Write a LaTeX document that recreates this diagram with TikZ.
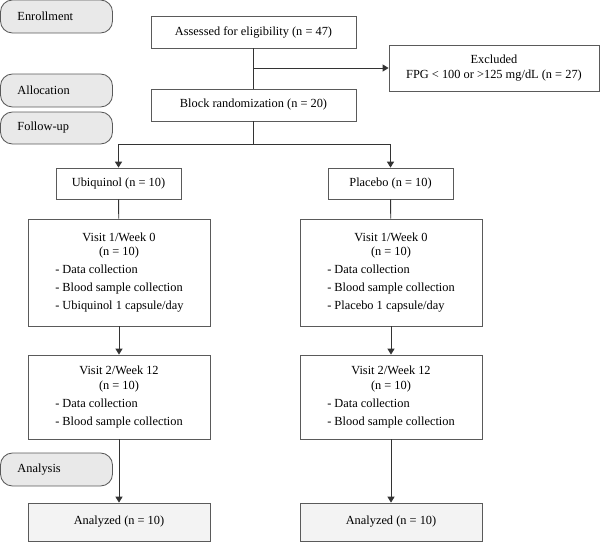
\documentclass[tikz,border=0pt]{standalone}
\usepackage{fontspec}
\setmainfont{Liberation Serif}
\usetikzlibrary{arrows.meta,positioning,calc}
\definecolor{edgegray}{HTML}{5A5A5A}
\definecolor{phasefill}{HTML}{E9E9E9}
\definecolor{resfill}{HTML}{F3F3F3}
\newcommand{\fs}{\fontsize{8.8}{10.6}\selectfont}
\newlength{\blw}
\newcommand{\bl}[1]{\makebox[\blw][l]{- #1}}
\tikzset{
  stage/.style={rectangle, draw=edgegray, line width=0.6pt, fill=#1, align=center,
                inner sep=0pt, font=\fs},
  phase/.style={rectangle, rounded corners=3mm, draw=edgegray, line width=0.6pt, fill=phasefill,
                text width=19.5mm, inner xsep=4.25mm, inner ysep=0pt, minimum height=8.25mm,
                align=left, font=\fs},
  arr/.style={-{Triangle[length=4.2pt,width=5pt]}, line width=0.6pt, draw=black!80},
  link/.style={line width=0.6pt, draw=black!80},
}
\begin{document}
\settowidth{\blw}{\fs - Blood sample collection}
\begin{tikzpicture}[x=0.025cm, y=-0.025cm]
\useasboundingbox (0,0) rectangle (600,542);
% phases
\node[phase] (enroll) at (56.5,16.5) {Enrollment};
\node[phase] (alloc) at (56.5,90.5) {Allocation};
\node[phase, minimum height=8mm] (follow) at (56.5,128) {Follow-up};
\node[phase] (analysis) at (56.5,469.5) {Analysis};
% enrollment and allocation
\node[stage=white, minimum width=51.25mm, minimum height=8mm] (assess) at (253.5,32) {Assessed for eligibility (n = 47)};
\node[stage=white, minimum width=52.5mm, minimum height=11.5mm] (excl) at (494,68) {Excluded\\FPG < 100 or >125 mg/dL (n = 27)};
\node[stage=white, minimum width=51.25mm, minimum height=8mm] (block) at (253.5,105) {Block randomization (n = 20)};
\node[stage=white, minimum width=31.25mm, minimum height=7.75mm] (ubi) at (118.5,183.5) {Ubiquinol (n = 10)};
\node[stage=white, minimum width=31.25mm, minimum height=7.75mm] (plac) at (390.5,183.5) {Placebo (n = 10)};
% follow-up
\node[stage=white, minimum width=45.5mm, minimum height=26.75mm] (visitoneU) at (119,272.5)
  {Visit 1/Week 0\\(n = 10)\\[2.2pt]\bl{Data collection}\\[2.2pt]\bl{Blood sample collection}\\[2.2pt]\bl{Ubiquinol 1 capsule/day}};
\node[stage=white, minimum width=45.5mm, minimum height=26.75mm] (visitoneP) at (391,272.5)
  {Visit 1/Week 0\\(n = 10)\\[2.2pt]\bl{Data collection}\\[2.2pt]\bl{Blood sample collection}\\[2.2pt]\bl{Placebo 1 capsule/day}};
\node[stage=white, minimum width=45.5mm, minimum height=21mm] (visittwoU) at (119,397)
  {Visit 2/Week 12\\(n = 10)\\[2.2pt]\bl{Data collection}\\[2.2pt]\bl{Blood sample collection}};
\node[stage=white, minimum width=45.5mm, minimum height=21mm] (visittwoP) at (391,397)
  {Visit 2/Week 12\\(n = 10)\\[2.2pt]\bl{Data collection}\\[2.2pt]\bl{Blood sample collection}};
% analysis
\node[stage=resfill, minimum width=45.5mm, minimum height=9.5mm] (anaU) at (119,522) {Analyzed (n = 10)};
\node[stage=resfill, minimum width=45.5mm, minimum height=9.5mm] (anaP) at (391,522) {Analyzed (n = 10)};
% connectors
\coordinate (split) at (253.5,144);
\draw[link] (assess) -- (block);
\draw[arr] (assess.south |- excl.west) -- (excl.west);
\draw[link] (block) -- (split);
\draw[arr] (split) -| (ubi);
\draw[arr] (split) -| (plac);
\draw[link] (ubi) -- (visitoneU);
\draw[link] (plac) -- (visitoneP);
\draw[arr] (visitoneU) -- (visittwoU);
\draw[arr] (visitoneP) -- (visittwoP);
\draw[arr] (visittwoU) -- (anaU);
\draw[arr] (visittwoP) -- (anaP);
\end{tikzpicture}
\end{document}
